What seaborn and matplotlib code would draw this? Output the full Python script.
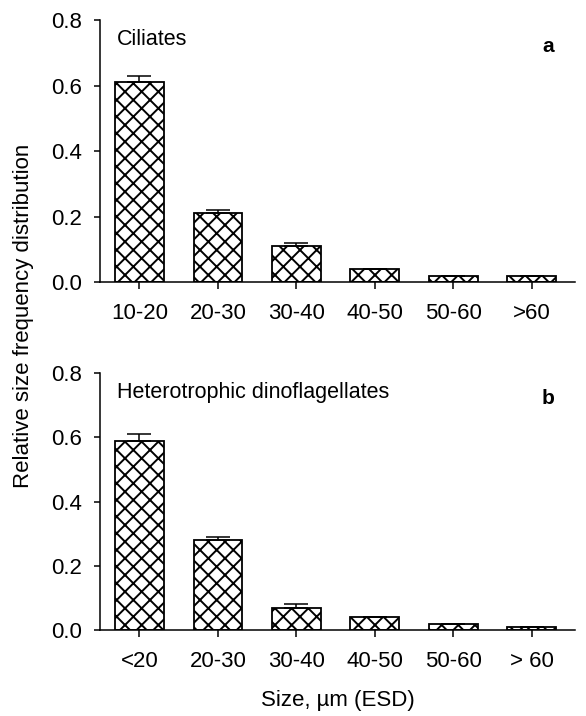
import numpy as np
import pandas as pd
import matplotlib
matplotlib.use("Agg")
import matplotlib.pyplot as plt
import seaborn as sns

# Size classes and relative frequencies
ciliate_sizes = ["10-20", "20-30", "30-40", "40-50", "50-60", ">60"]
ciliate_freq = [0.61, 0.21, 0.11, 0.04, 0.02, 0.02]
ciliate_err = [0.02, 0.01, 0.01, 0.0, 0.0, 0.0]

dino_sizes = ["<20", "20-30", "30-40", "40-50", "50-60", "> 60"]
dino_freq = [0.59, 0.28, 0.07, 0.04, 0.02, 0.01]
dino_err = [0.02, 0.01, 0.01, 0.0, 0.0, 0.0]

y_ticks = [0.0, 0.2, 0.4, 0.6, 0.8]

sns.set_style("ticks")
plt.rcParams["font.family"] = ["Liberation Sans", "DejaVu Sans"]
plt.rcParams["text.color"] = "black"
plt.rcParams["axes.labelcolor"] = "black"
plt.rcParams["hatch.linewidth"] = 1.4

fig = plt.figure(figsize=(5.86, 7.16), dpi=100)
ax1 = fig.add_axes([0.171, 0.606, 0.81, 0.366])
ax2 = fig.add_axes([0.171, 0.120, 0.81, 0.359])


def draw_panel(ax, sizes, freq, err, title, letter):
    df = pd.DataFrame({"size": sizes, "freq": freq})
    sns.barplot(data=df, x="size", y="freq", ax=ax, color="white",
                edgecolor="black", linewidth=1.3, hatch="xx", width=0.62,
                saturation=1, errorbar=None)
    # upper error bars only
    ax.errorbar(np.arange(len(sizes)), freq, yerr=[np.zeros(len(err)), err],
                fmt="none", ecolor="black", elinewidth=1.1, capsize=8.5,
                capthick=1.1)
    ax.set_ylim(0, 0.8)
    ax.set_xlim(-0.5, 5.55)
    ax.set_yticks(y_ticks)
    ax.set_yticklabels([f"{v:.1f}" for v in y_ticks])
    ax.set_xlabel("")
    ax.set_ylabel("")
    ax.tick_params(axis="both", direction="out", width=1.1,
                   labelsize=16, colors="black")
    ax.tick_params(axis="x", length=5, pad=10)
    ax.tick_params(axis="y", length=4, pad=9)
    for s in ["top", "right"]:
        ax.spines[s].set_visible(False)
    for s in ["left", "bottom"]:
        ax.spines[s].set_linewidth(1.1)
        ax.spines[s].set_color("black")
    ax.text(0.035, 0.925, title, transform=ax.transAxes, fontsize=15.5,
            va="center", ha="left")
    ax.text(0.943, 0.9, letter, transform=ax.transAxes, fontsize=15,
            fontweight="bold", va="center", ha="center")


draw_panel(ax1, ciliate_sizes, ciliate_freq, ciliate_err, "Ciliates", "a")
draw_panel(ax2, dino_sizes, dino_freq, dino_err,
           "Heterotrophic dinoflagellates", "b")

fig.text(0.04, 0.559, "Relative size frequency distribution", rotation=90,
         fontsize=16, va="center", ha="center")
ax2.set_xlabel("Size, µm (ESD)", fontsize=16, labelpad=13)

fig.savefig("out.png", dpi=100)
